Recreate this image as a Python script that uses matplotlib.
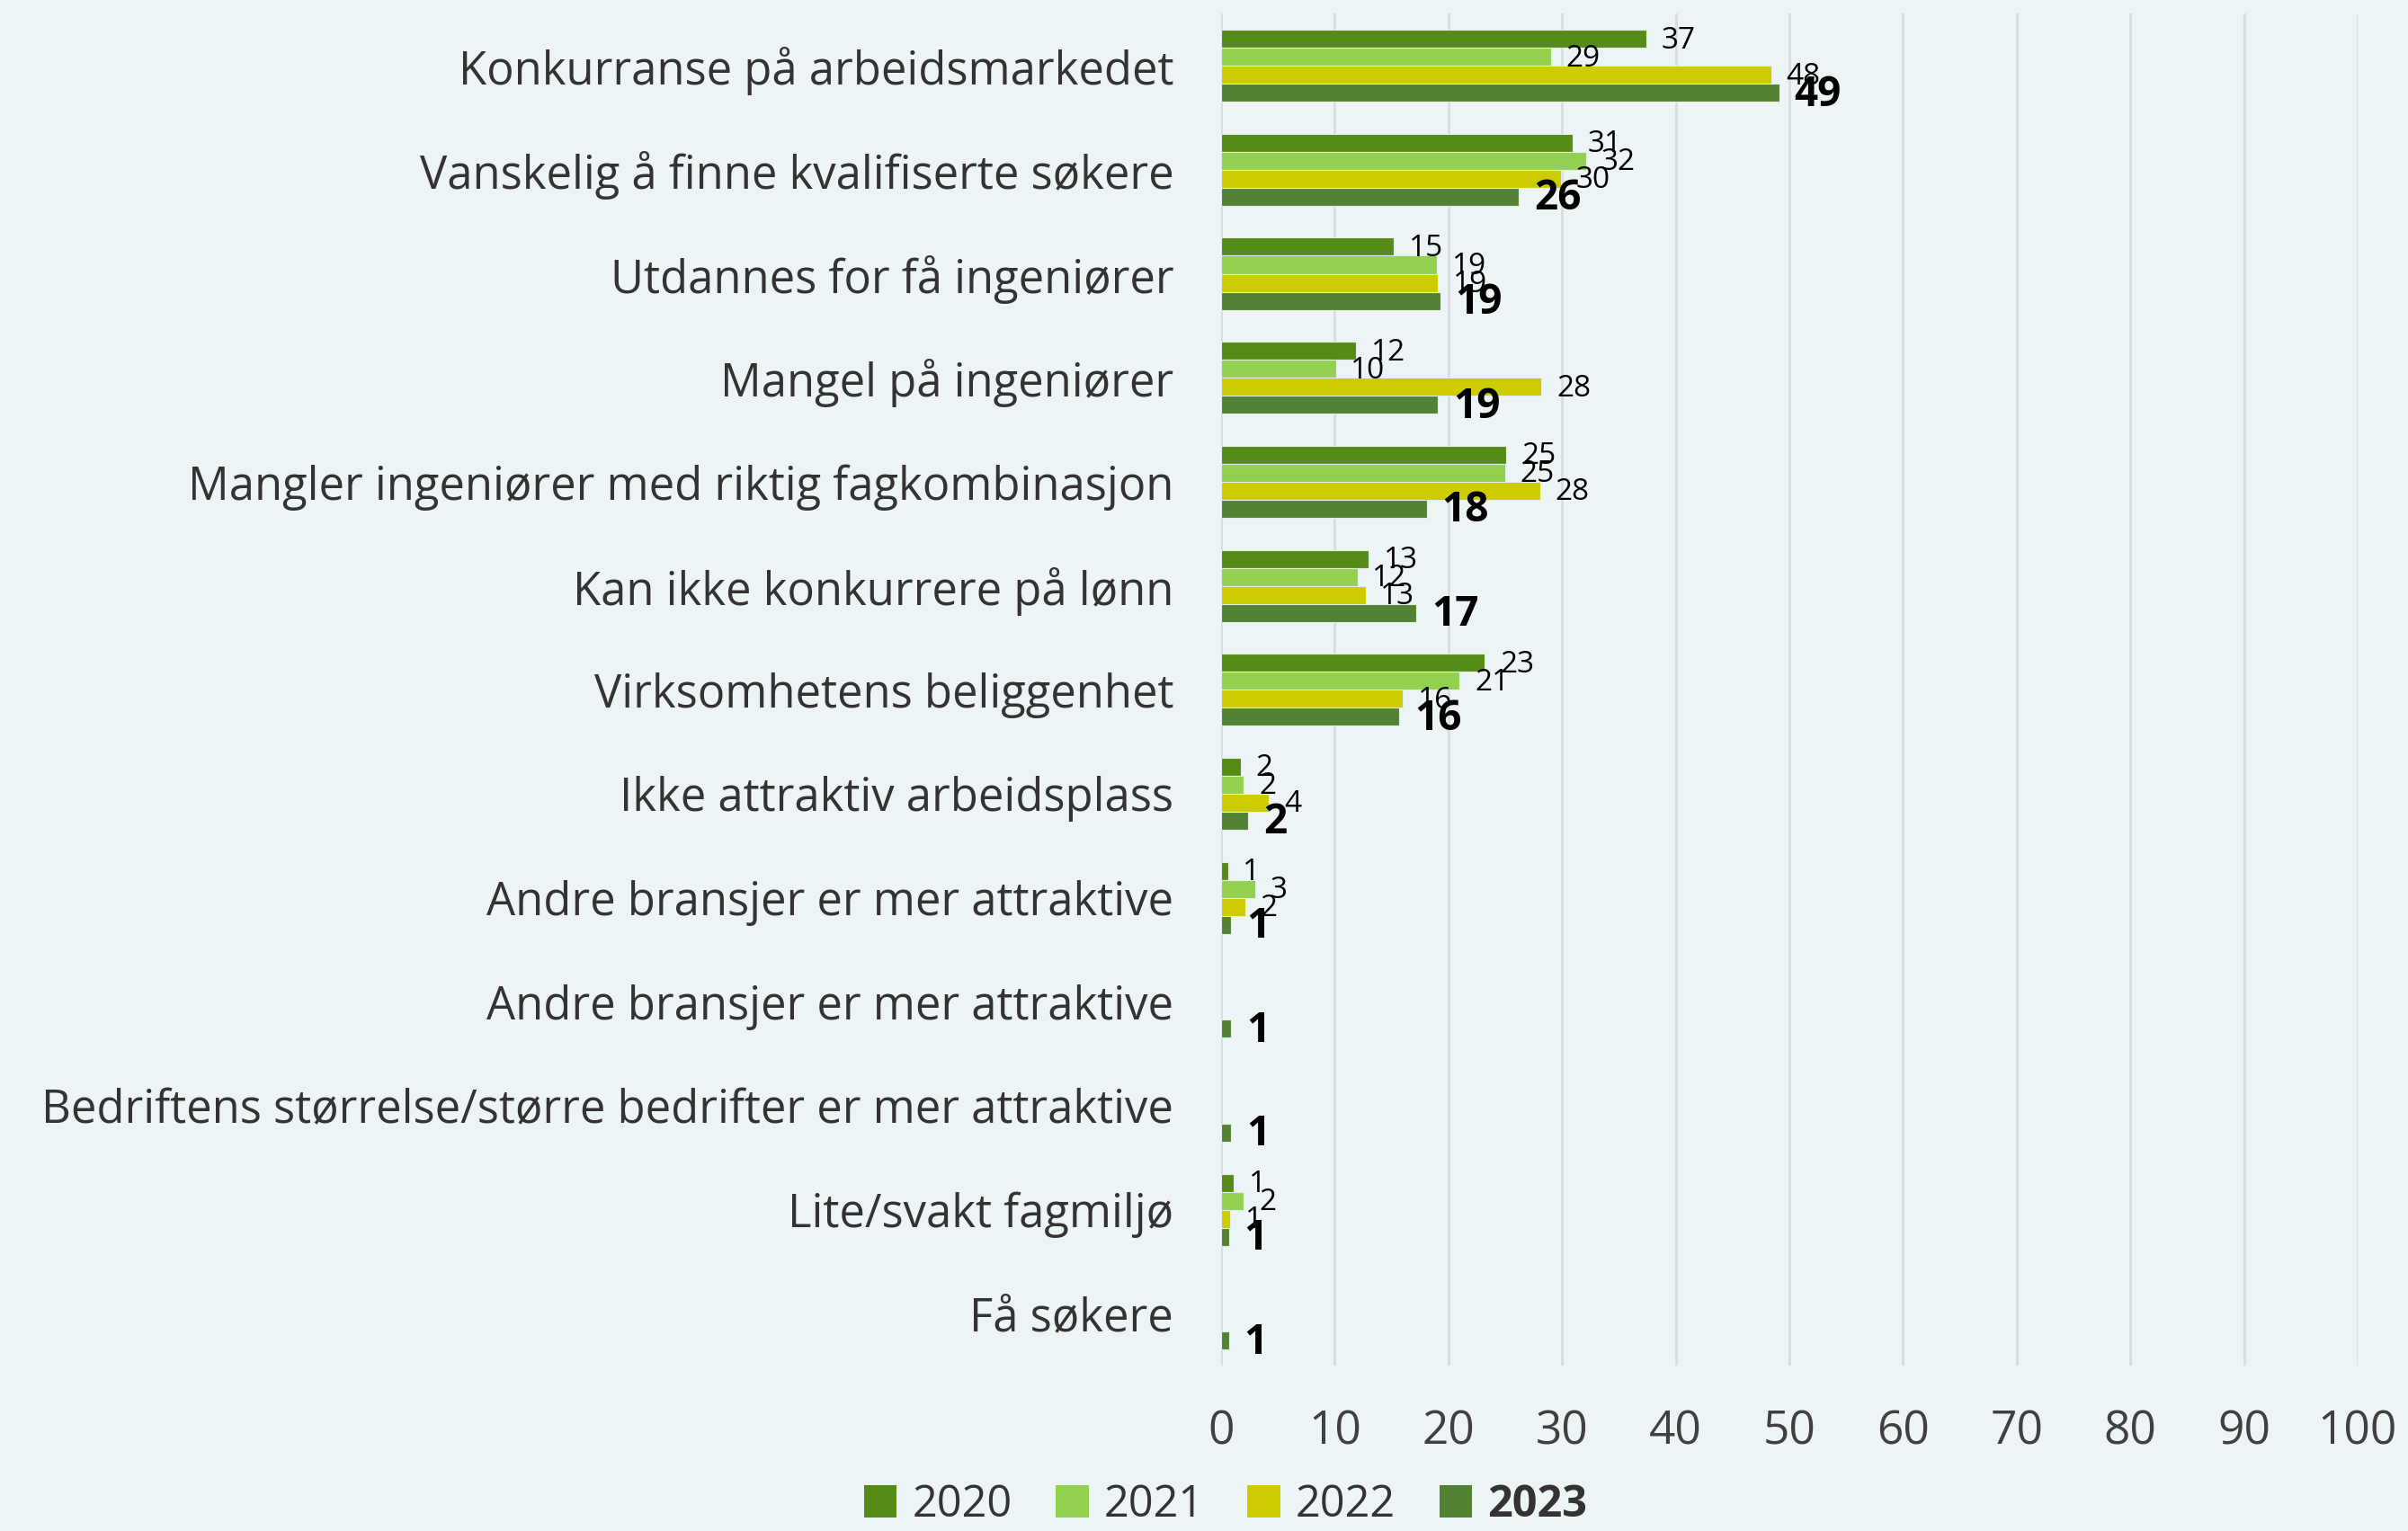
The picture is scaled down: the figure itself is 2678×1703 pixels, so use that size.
import numpy as np
import matplotlib.pyplot as plt
from matplotlib.patches import Patch

categories = [
    'Konkurranse på arbeidsmarkedet',
    'Vanskelig å finne kvalifiserte søkere',
    'Utdannes for få ingeniører',
    'Mangel på ingeniører',
    'Mangler ingeniører med riktig fagkombinasjon',
    'Kan ikke konkurrere på lønn',
    'Virksomhetens beliggenhet',
    'Ikke attraktiv arbeidsplass',
    'Andre bransjer er mer attraktive',
    'Andre bransjer er mer attraktive',
    'Bedriftens størrelse/større bedrifter er mer attraktive',
    'Lite/svakt fagmiljø',
    'Få søkere',
]
years = ['2020', '2021', '2022', '2023']
v2020 = [37.4, 30.9, 15.2, 11.9, 25.1, 13.0, 23.2, 1.7, 0.6, None, None, 1.1, None]
v2021 = [29.0, 32.1, 19.0, 10.1, 25.0, 12.0, 21.0, 2.0, 3.0, None, None, 2.0, None]
v2022 = [48.4, 29.9, 19.1, 28.2, 28.1, 12.7, 16.0, 4.2, 2.1, None, None, 0.8, None]
v2023 = [49.1, 26.2, 19.3, 19.1, 18.1, 17.2, 15.7, 2.4, 0.9, 0.9, 0.9, 0.7, 0.7]
series = [v2020, v2021, v2022, v2023]
colors = ['#578B18', '#92D050', '#CCCC00', '#548235']
xticks = list(range(0, 101, 10))

bg = '#EDF4F6'
cat_font = ['Open Sans', 'DejaVu Sans']
num_font = ['Liberation Sans Narrow', 'Open Sans', 'DejaVu Sans']

fig = plt.figure(figsize=(26.78, 17.03), dpi=100, facecolor=bg)
ax = fig.add_axes([0.5071, 0.108, 0.4720, 0.883])
ax.set_facecolor(bg)

h = 0.173
y = np.arange(len(categories))
for k, vals in enumerate(series):
    off = (k - 1.5) * h
    for i, v in enumerate(vals):
        if v is None:
            continue
        ax.barh(y[i] + off, v, height=h, color=colors[k], edgecolor='#E4EEE4', linewidth=0.8, zorder=3)
        bold = (k == 3)
        ax.annotate(str(int(round(v))) if v >= 1 else '1', (v, y[i] + off), xytext=(12, -1.5),
                    textcoords='offset points', va='center', ha='left',
                    fontsize=33 if bold else 24, fontweight='bold' if bold else 'normal',
                    family=num_font, color='black', zorder=4)

ax.set_ylim(len(categories) - 0.5, -0.5)
ax.set_xlim(0, 100)
ax.set_yticks(y)
ax.set_yticklabels(categories, fontsize=36.5, family=cat_font, color='#333333',
                   va='center_baseline')
ax.set_xticks(xticks)
ax.set_xticklabels([str(t) for t in xticks], fontsize=37, family=num_font, color='#404040')
ax.tick_params(axis='both', length=0)
ax.tick_params(axis='y', pad=38)
ax.tick_params(axis='x', pad=35)
ax.grid(axis='x', color='#D9DDE0', linewidth=2, zorder=0)
for s in ax.spines.values():
    s.set_visible(False)

handles = [Patch(facecolor=c, label=yr) for c, yr in zip(colors, years)]
leg = fig.legend(handles=handles, loc='center', bbox_to_anchor=(1363 / 2678, 1 - 1674 / 1703),
                 ncol=4, frameon=False, handlelength=0.75, handleheight=0.75,
                 handletextpad=0.35, columnspacing=1.0, borderpad=0.2,
                 prop={'family': num_font, 'size': 35})
for t in leg.get_texts():
    t.set_color('#333333')
leg.get_texts()[3].set_fontweight('bold')

fig.savefig('out.png', dpi=100, facecolor=bg)
